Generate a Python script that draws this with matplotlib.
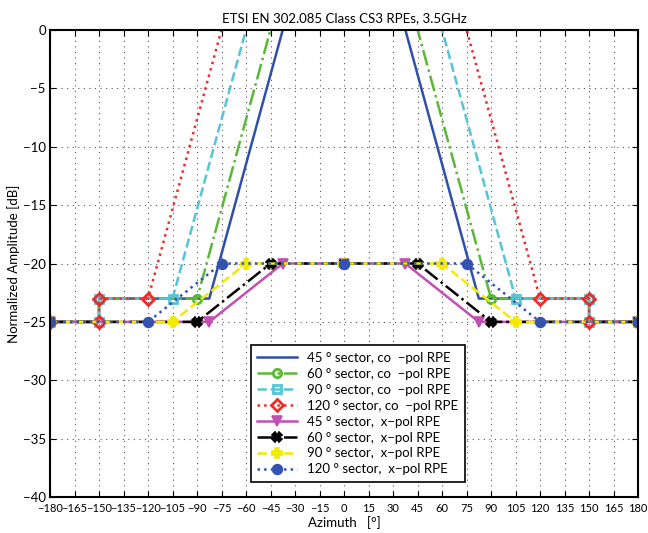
import numpy as np
import matplotlib
matplotlib.use('Agg')
import matplotlib.pyplot as plt

plt.rcParams['font.family'] = ['Lato', 'DejaVu Sans']

# sector widths [deg]
sectors = [45, 60, 90, 120]

# co-pol RPE corner points (per sector): azimuth and level [dB]
co_edge_az = 150.0          # step from -25 to -23 dB
co_floor_db = -25.0
co_shelf_db = -23.0
co_knee_offset = 60.0       # knee at sector/2 + 60
co_peak_db = 7.7            # value at sector/2 (outside the plotted range)

# x-pol RPE corner points (per sector)
xp_floor_db = -25.0
xp_top_db = -20.0
xp_knee_offset = 60.0       # knee at sector/2 + 60
xp_top_offset = 15.0        # reaches -20 dB at sector/2 + 15

co_styles = [
    dict(color='#2f4fa8', ls='-', marker=None),
    dict(color='#5ab738', ls='-.', marker='o', mfc='none'),
    dict(color='#55c4d6', ls='--', marker='s', mfc='none'),
    dict(color='#ee2a2a', ls=':', marker='D', mfc='none'),
]
xp_styles = [
    dict(color='#c24fb2', ls='-', marker='v', mfc='#c24fb2'),
    dict(color='black', ls='-.', marker='X', mfc='black'),
    dict(color='#f2ea00', ls='--', marker='P', mfc='#f2ea00'),
    dict(color='#3452b0', ls=':', marker='o', mfc='#3452b0'),
]


def co_pol(s):
    h = s / 2.0
    k = h + co_knee_offset
    az = [-180, -co_edge_az, -co_edge_az, -k, -h, h, k, co_edge_az, co_edge_az, 180]
    db = [co_floor_db, co_floor_db, co_shelf_db, co_shelf_db, co_peak_db,
          co_peak_db, co_shelf_db, co_shelf_db, co_floor_db, co_floor_db]
    return az, db


def x_pol(s):
    h = s / 2.0
    k = h + xp_knee_offset
    t = h + xp_top_offset
    az = [-180, -k, -t, 0, t, k, 180]
    db = [xp_floor_db, xp_floor_db, xp_top_db, xp_top_db, xp_top_db,
          xp_floor_db, xp_floor_db]
    return az, db


fig = plt.figure(figsize=(6.48, 5.33), dpi=100)
ax = fig.add_axes([0.0772, 0.0675, 0.9075, 0.8762])

for s, st in zip(sectors, co_styles):
    az, db = co_pol(s)
    ax.plot(az, db, linestyle=st['ls'], color=st['color'], lw=1.8,
            marker=st['marker'], mfc=st.get('mfc', 'none'), mec=st['color'],
            mew=2, ms=6, label=f'{s} ° sector, co  −pol RPE')

for s, st in zip(sectors, xp_styles):
    az, db = x_pol(s)
    ax.plot(az, db, linestyle=st['ls'], color=st['color'], lw=1.8,
            marker=st['marker'], mfc=st['mfc'], mec=st['color'],
            mew=1.2, ms=7, label=f'{s} ° sector,  x−pol RPE')

ax.set_xlim(-180, 180)
ax.set_ylim(-40, 0)
ax.set_xticks(np.arange(-180, 181, 15))
ax.set_yticks(np.arange(-40, 1, 5))
ax.grid(True, linestyle=(0, (1, 4)), color='#555555', lw=0.8)
ax.tick_params(direction='in', top=True, right=True, length=4)
ax.tick_params(axis='x', labelsize=8, pad=4)
ax.tick_params(axis='y', labelsize=9.5, pad=3)
for sp in ax.spines.values():
    sp.set_linewidth(1.5)

ax.set_title('ETSI EN 302.085 Class CS3 RPEs, 3.5GHz', fontsize=9.5, pad=6)
ax.set_xlabel('Azimuth   [°]', fontsize=9.5, labelpad=2)
ax.set_ylabel('Normalized Amplitude [dB]', fontsize=9.5, labelpad=2)

leg = ax.legend(loc='lower left', bbox_to_anchor=(0.33, 0.018), fontsize=9.5,
                fancybox=False, edgecolor='black', framealpha=1,
                handlelength=3.0, borderpad=0.5, labelspacing=0.3)
leg.get_frame().set_linewidth(1.2)

fig.savefig('out.png', dpi=100)
